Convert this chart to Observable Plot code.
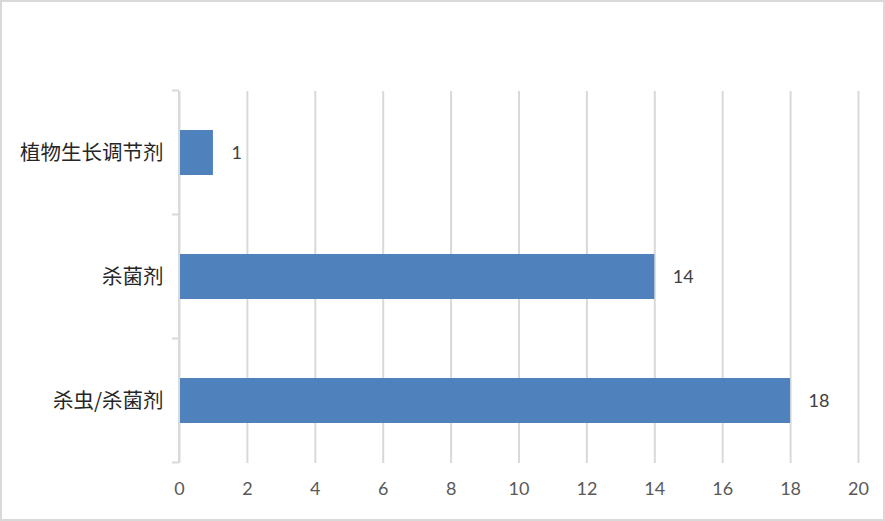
<!DOCTYPE html>
<html>
<head>
<meta charset="utf-8">
<script src="https://cdn.jsdelivr.net/npm/d3@7"></script>
<script src="https://cdn.jsdelivr.net/npm/@observablehq/plot@0.6"></script>
<style>
  html, body { margin: 0; padding: 0; background: #fff; }
  #chart svg { display: block; outline: 2px solid #d9d9d9; outline-offset: -2px; }
</style>
</head>
<body>
<div id="chart"></div>
<script>
const categories = ["植物生长调节剂", "杀菌剂", "杀虫/杀菌剂"];
const values = [1, 14, 18];
const xTicks = [0, 2, 4, 6, 8, 10, 12, 14, 16, 18, 20];

const data = categories.map((c, i) => ({category: c, value: values[i]}));

const gridColor = "#d9d9d9";

// boundary ticks on the category axis (Excel style)
function bandBoundaryTicks(index, scales, values, dimensions) {
  const y = scales.scales ? scales.scales.y : null;
  const ys = scales.y;
  const band = ys.bandwidth ? ys : null;
  const g = d3.create("svg:g");
  const dom = ys.domain();
  const step = ys.step();
  const bounds = dom.map(d => ys(d) + ys.bandwidth() / 2 - step / 2);
  bounds.push(bounds[bounds.length - 1] + step);
  const x0 = dimensions.marginLeft;
  g.append("line")
    .attr("x1", x0).attr("x2", x0)
    .attr("y1", dimensions.marginTop).attr("y2", dimensions.height - dimensions.marginBottom)
    .attr("stroke", gridColor).attr("stroke-width", 2);
  g.selectAll("line.t").data(bounds).join("line")
    .attr("class", "t")
    .attr("x1", x0 - 7).attr("x2", x0)
    .attr("y1", d => d).attr("y2", d => d)
    .attr("stroke", gridColor).attr("stroke-width", 2);
  return g.node();
}

const chart = Plot.plot({
  width: 885,
  height: 521,
  marginLeft: 179,
  marginRight: 27,
  marginTop: 91,
  marginBottom: 58,
  style: {background: "#fff", fontFamily: "Lato, 'Noto Sans CJK SC', sans-serif"},
  x: {domain: [0, 20], ticks: xTicks, label: null},
  y: {domain: categories, paddingInner: 0.637, paddingOuter: 0.3185, label: null},
  marks: [
    Plot.gridX(xTicks, {stroke: gridColor, strokeOpacity: 1, strokeWidth: 2}),
    Plot.axisX({ticks: xTicks, tickSize: 0, tickPadding: 19, fontSize: 18, fill: "#595959", label: null,
      fontFamily: "Lato, sans-serif"}),
    Plot.axisY({tickSize: 0, tickPadding: 16, fontSize: 20.5, fill: "#262626", label: null,
      fontFamily: "'Noto Sans CJK SC', sans-serif"}),
    Plot.barX(data, {x: "value", y: "category", fill: "#4f81bd"}),
    bandBoundaryTicks,
    Plot.text(data, {x: "value", y: "category", text: d => String(d.value), dx: 18, textAnchor: "start",
      fontSize: 18, fill: "#404040", fontFamily: "Lato, sans-serif"})
  ]
});

document.getElementById("chart").appendChild(chart);
</script>
</body>
</html>
